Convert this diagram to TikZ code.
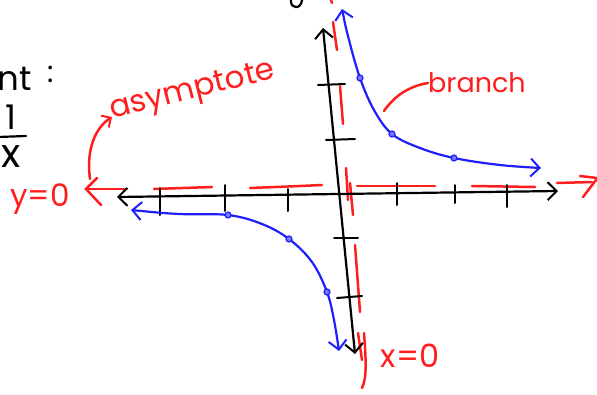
\documentclass[tikz,border=0pt]{standalone}
\usepackage{fontspec}
\setmainfont{Poppins}
\usetikzlibrary{arrows.meta}
\definecolor{pen red}{RGB}{255,30,30}
\definecolor{pen blue}{RGB}{30,30,255}
\tikzset{
  axis/.style={black, line width=2.2pt, line cap=round, line join=round},
  tick/.style={black, line width=2pt, line cap=round},
  asym/.style={pen red, line width=2.5pt, line cap=round},
  curve/.style={pen blue, line width=2.2pt, line cap=round, line join=round},
  redlabel/.style={text=pen red, inner sep=0pt},
  blacklabel/.style={text=black, inner sep=0pt},
  dot/.style={circle, draw=pen blue, fill=pen blue!60, line width=1.2pt, minimum size=6pt, inner sep=0pt},
  barb/.tip={Straight Barb[length=9pt, width=18pt, line width=2pt]}
}
\begin{document}
\begin{tikzpicture}[x=1pt,y=-1pt]
\useasboundingbox (0,0) rectangle (597,394);
\clip (0,0) rectangle (597,394);

% axes end points
\coordinate (xl) at (117,197);
\coordinate (xr) at (558,191);
\coordinate (yt) at (323,28);
\coordinate (yb) at (355,354);

% red asymptotes (dashed)
\draw[asym] (88,189) -- (127,189);
\draw[asym] (97,178) -- (86,189) -- (101,205);
\draw[asym] (154,189) -- (212,187);
\draw[asym] (250,188) -- (300,186);
\draw[asym] (300,186) -- (322,185);
\draw[asym] (357,186) -- (435,186);
\draw[asym] (472,186) -- (535,187);
\draw[asym] (557,183) -- (592,182);
\draw[asym] (580,176) -- (597,178);
\draw[asym] (596,180) -- (583,197);

\draw[asym] (331,0) -- (332,3);
\draw[asym] (333,22) -- (337,50);
\draw[asym] (340,86) -- (343,124);
\draw[asym] (346,168) -- (348,200);
\draw[asym] (350,183) -- (353,215);
\draw[asym] (355,245) -- (360,312);
\draw[asym] (358,333) -- (362,360);
\draw[asym] (364,333) .. controls (366,360) and (367,378) .. (362,388);

% axes
\draw[axis, {barb}-{barb}] (xl) -- (xr);
\draw[axis, {barb}-{barb}] (yb) -- (yt);

% ticks on x-axis
\draw[tick] (160,188) -- (160,215);
\draw[tick] (225,185) -- (225,211);
\draw[tick] (288,189) -- (288,211);
\draw[tick] (397,183) -- (397,205);
\draw[tick] (455,185) -- (455,203);
\draw[tick] (507,185) -- (507,207);
% ticks on y-axis
\draw[tick] (318,85) -- (345,84);
\draw[tick] (326,140) -- (355,139);
\draw[tick] (334,238) -- (358,238);
\draw[tick] (337,298) -- (362,296);

% fragment of the axis letter at the top
\draw[axis] (291,0) .. controls (290,9) and (301,10) .. (302,0);

% blue branches
\draw[curve, {barb}-{barb}] plot[smooth, tension=0.6] coordinates
  {(342,9) (349,40) (360,78) (374,110) (392,134) (420,148) (454,158) (500,165) (541,168)};
\draw[curve, {barb}-{barb}] plot[smooth, tension=0.6] coordinates
  {(131,210) (180,214) (228,215) (262,224) (289,239) (312,262) (327,292) (334,320) (339,351)};

\node[dot] (d1) at (360,78) {};
\node[dot] (d2) at (392,134) {};
\node[dot] (d3) at (454,158) {};
\node[dot] (d4) at (228,215) {};
\node[dot] (d5) at (289,239) {};
\node[dot] (d6) at (327,292) {};

% labels
\node[redlabel, font=\fontsize{31}{31}\selectfont, rotate=14] (asy) at (193,92) {asymptote};
\node[redlabel, font=\fontsize{31}{31}\selectfont] (y0) at (40,199) {y=0};
\node[redlabel, font=\fontsize{27}{27}\selectfont] (br) at (477,83) {branch};
\node[redlabel, font=\fontsize{32}{32}\selectfont] (x0) at (410,356) {x=0};

\coordinate (asyfoot) at (90,179);
\coordinate (brfoot) at (384,111);
\draw[asym, -{Straight Barb[length=7pt, width=14pt, line width=2pt]}]
  (asyfoot) .. controls (86,150) and (95,128) .. (112,117);
\draw[asym] (brfoot) .. controls (395,95) and (410,86) .. (br.west);

% top-left black text
\node[blacklabel, font=\fontsize{34}{34}\selectfont, anchor=base east] (pt) at (32,90) {nt};
\node[blacklabel, font=\fontsize{30}{30}\selectfont, anchor=base] (colon) at (51,82) {:};
\node[blacklabel, font=\fontsize{34}{34}\selectfont] (one) at (11,117) {1};
\draw[axis] (-2,137) -- (26,136);
\node[blacklabel, font=\fontsize{40}{40}\selectfont] (ex) at (11,157) {x};
\end{tikzpicture}
\end{document}
